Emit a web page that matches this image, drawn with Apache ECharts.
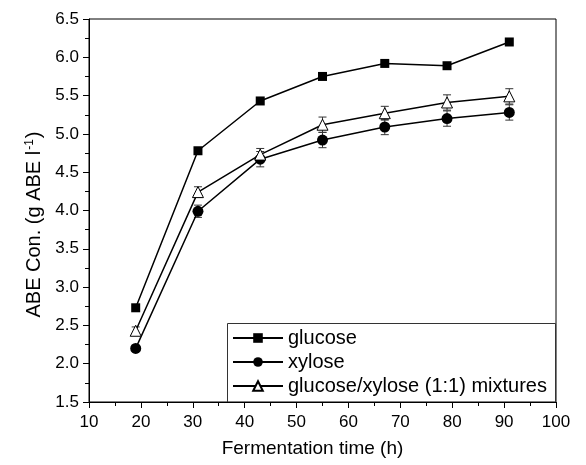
<!DOCTYPE html>
<html>
<head>
<meta charset="utf-8">
<script src="https://cdn.jsdelivr.net/npm/echarts@6/dist/echarts.min.js"></script>
<style>html,body{margin:0;padding:0;background:#fff}#c{width:586px;height:465px}</style>
</head>
<body>
<div id="c"></div>
<script>
const time = [19, 31, 43, 55, 67, 79, 91];
const glucose = [2.73, 4.78, 5.43, 5.75, 5.92, 5.89, 6.2];
const xylose = [2.2, 3.99, 4.67, 4.92, 5.09, 5.2, 5.28];
const mixture = [2.43, 4.24, 4.73, 5.12, 5.27, 5.41, 5.49];
const xyloseErr = [0.04, 0.08, 0.1, 0.1, 0.1, 0.1, 0.1];
const mixtureErr = [0.05, 0.07, 0.08, 0.1, 0.09, 0.1, 0.1];
const xTicks = [10, 20, 30, 40, 50, 60, 70, 80, 90, 100];
const yTicks = [1.5, 2.0, 2.5, 3.0, 3.5, 4.0, 4.5, 5.0, 5.5, 6.0, 6.5];

const FONT = 'Liberation Sans, Arial, sans-serif';
function pts(ys){ return time.map((t,i)=>[t, ys[i]]); }
function errData(ys, es){ return time.map((t,i)=>[t, ys[i]-es[i], ys[i]+es[i]]); }
function errSeries(ys, es){
  return {
    type: 'custom', silent: true, z: 1,
    data: errData(ys, es),
    renderItem: function(params, api){
      const lo = api.coord([api.value(0), api.value(1)]);
      const hi = api.coord([api.value(0), api.value(2)]);
      const w = 4;
      const st = {stroke: '#333', lineWidth: 1};
      return {type: 'group', children: [
        {type:'line', shape:{x1:lo[0],y1:lo[1],x2:hi[0],y2:hi[1]}, style: st},
        {type:'line', shape:{x1:lo[0]-w,y1:lo[1],x2:lo[0]+w,y2:lo[1]}, style: st},
        {type:'line', shape:{x1:hi[0]-w,y1:hi[1],x2:hi[0]+w,y2:hi[1]}, style: st}
      ]};
    }
  };
}
const chart = echarts.init(document.getElementById('c'), null, {renderer: 'canvas'});
chart.setOption({
  animation: false,
  backgroundColor: '#fff',
  textStyle: {fontFamily: FONT},
  grid: {left: 89, right: 30, top: 19, bottom: 63, show: true, borderColor: '#000', borderWidth: 1},
  graphic: [{
    type: 'rect', z: 0,
    shape: {x: 227.5, y: 323.5, width: 328, height: 79},
    style: {fill: 'none', stroke: '#333', lineWidth: 1}
  }],
  xAxis: {
    type: 'value', min: xTicks[0], max: xTicks[xTicks.length-1], interval: 10,
    name: 'Fermentation time (h)', nameLocation: 'middle', nameGap: 37,
    nameTextStyle: {fontSize: 19, color: '#000', fontFamily: FONT, padding: [0, 20, 0, 0]},
    axisLine: {show: true, lineStyle: {color: '#000', width: 1}},
    axisTick: {show: true, length: 6, lineStyle: {color: '#000'}},
    minorTick: {show: true, splitNumber: 2, length: 4, lineStyle: {color: '#000'}},
    splitLine: {show: false},
    axisLabel: {fontSize: 17, color: '#000', margin: 12, fontFamily: FONT}
  },
  yAxis: {
    type: 'value', min: yTicks[0], max: yTicks[yTicks.length-1], interval: 0.5,
    name: '{n|ABE Con. (g ABE l}{s|-1}{n|)}', nameLocation: 'middle', nameGap: 41,
    nameTextStyle: {fontSize: 20, color: '#000', fontFamily: FONT, padding: [0, 28, 0, 0],
      rich: {n: {fontSize: 20, color: '#000', fontFamily: FONT, lineHeight: 22},
             s: {fontSize: 12, color: '#000', fontFamily: FONT, verticalAlign: 'top', lineHeight: 22, padding: [0,1,8,1]}}},
    axisLine: {show: true, lineStyle: {color: '#000', width: 1}},
    axisTick: {show: true, length: 6, lineStyle: {color: '#000'}},
    minorTick: {show: true, splitNumber: 2, length: 4, lineStyle: {color: '#000'}},
    splitLine: {show: false},
    axisLabel: {fontSize: 17, color: '#000', margin: 10, fontFamily: FONT,
      formatter: v => v.toFixed(1)}
  },
  legend: {
    orient: 'vertical', left: 232, top: 328,
    padding: 0, itemGap: 4, itemWidth: 50, itemHeight: 12,
    textStyle: {fontSize: 20, color: '#000', fontFamily: FONT, lineHeight: 20, padding: [0, 0, 0, 0]},
    data: ['glucose', 'xylose', 'glucose/xylose (1:1) mixtures']
  },
  series: [
    errSeries(xylose, xyloseErr),
    errSeries(mixture, mixtureErr),
    {name: 'glucose', type: 'line', data: pts(glucose), symbol: 'rect', symbolSize: 9,
     itemStyle: {color: '#000'}, lineStyle: {color: '#000', width: 1.5}, z: 3},
    {name: 'xylose', type: 'line', data: pts(xylose), symbol: 'circle', symbolSize: 11,
     itemStyle: {color: '#000'}, lineStyle: {color: '#000', width: 1.5}, z: 3},
    {name: 'glucose/xylose (1:1) mixtures', type: 'line', data: pts(mixture), symbol: 'triangle', symbolSize: 11,
     itemStyle: {color: '#fff', borderColor: '#000', borderWidth: 1}, lineStyle: {color: '#000', width: 1.5}, z: 4}
  ]
});
</script>
</body>
</html>
